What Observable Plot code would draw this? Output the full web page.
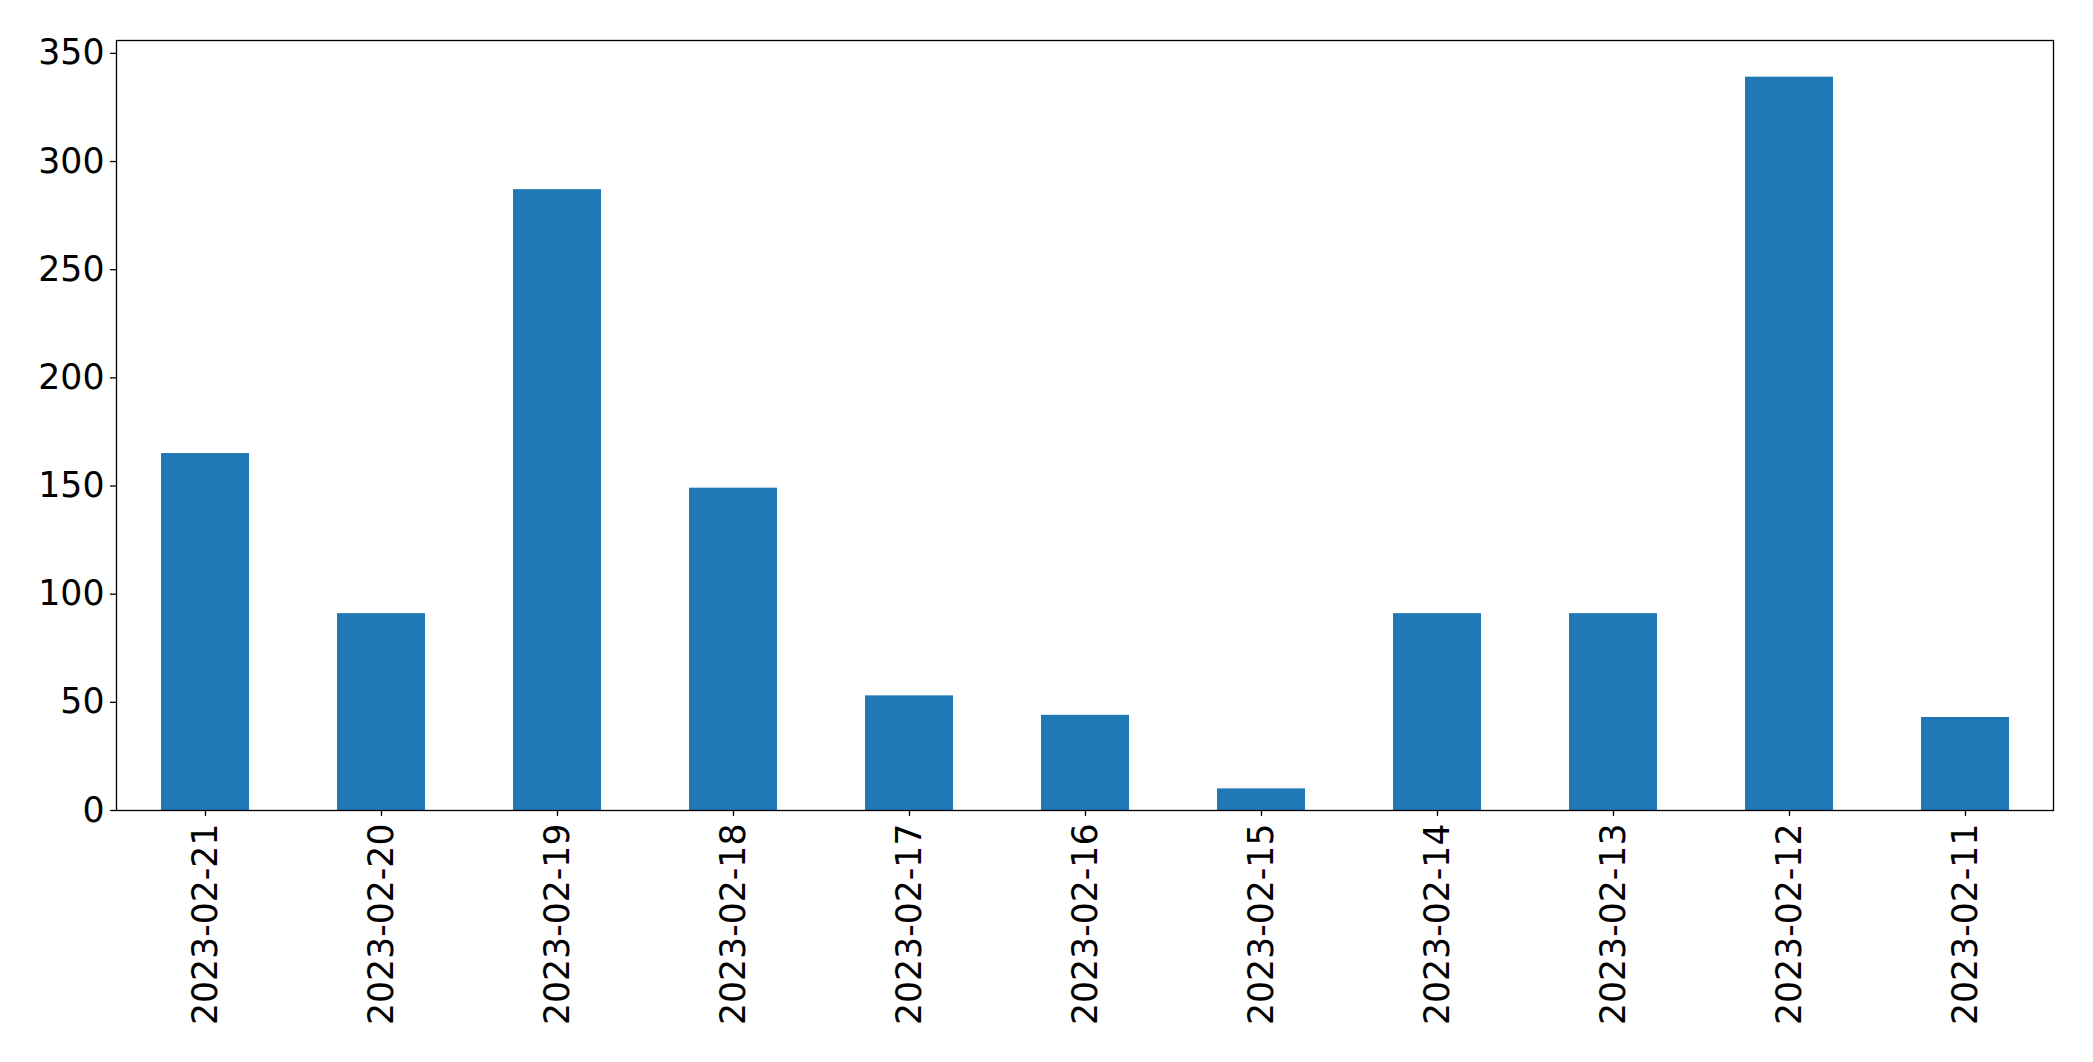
<!DOCTYPE html>
<html>
<head>
<meta charset="utf-8">
<script src="https://cdn.jsdelivr.net/npm/d3@7"></script>
<script src="https://cdn.jsdelivr.net/npm/@observablehq/plot@0.6"></script>
<style>
  html, body { margin: 0; padding: 0; background: #fff; }
</style>
</head>
<body>
<div id="chart"></div>
<script>
const dates = ["2023-02-21", "2023-02-20", "2023-02-19", "2023-02-18", "2023-02-17", "2023-02-16", "2023-02-15", "2023-02-14", "2023-02-13", "2023-02-12", "2023-02-11"];
const counts = [165, 91, 287, 149, 53, 44, 10, 91, 91, 339, 43];
const yTicks = [0, 50, 100, 150, 200, 250, 300, 350];

const data = dates.map((d, i) => ({date: d, count: counts[i]}));

const chart = Plot.plot({
  width: 2093,
  height: 1062,
  marginLeft: 116,
  marginRight: 40,
  marginTop: 40,
  marginBottom: 252,
  style: {fontFamily: "DejaVu Sans", fontSize: "34.7px", color: "#000", background: "#fff"},
  x: {domain: dates, paddingInner: 0.5, paddingOuter: 0.25, label: null},
  y: {domain: [0, 339 * 1.05], label: null},
  marks: [
    Plot.barY(data, {x: "date", y: "count", fill: "#1f77b4"}),
    Plot.frame({stroke: "#000", strokeWidth: 1.3}),
    Plot.axisY({ticks: yTicks, tickSize: 6, tickPadding: 6, strokeWidth: 1.3, label: null}),
    Plot.axisX({tickSize: 6, tickPadding: 7, tickRotate: -90, strokeWidth: 1.3, label: null})
  ]
});
document.getElementById("chart").appendChild(chart);
</script>
</body>
</html>
